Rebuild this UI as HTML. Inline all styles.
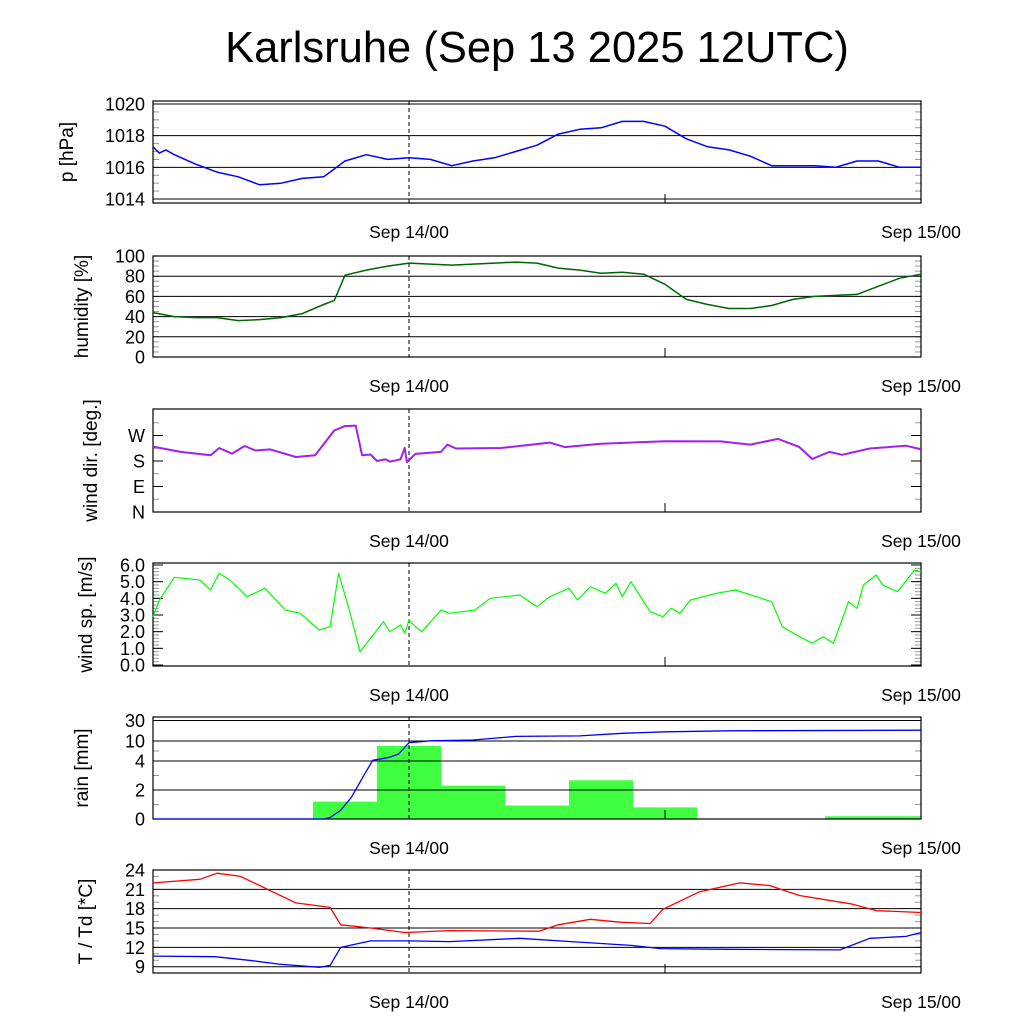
<!DOCTYPE html>
<html><head><meta charset="utf-8"><style>
body{margin:0;background:#fff}
svg{display:block;font-family:"Liberation Sans",sans-serif}
</style></head><body>
<svg id="c" width="1024" height="1024" viewBox="0 0 1024 1024">
<text x="537" y="62" font-size="43.5" text-anchor="middle">Karlsruhe (Sep 13 2025 12UTC)</text>
</svg>
<script>
// hours since Sep 13 12UTC
const pHours=[0,0.3,0.6,1,2,3,4,5,6,7,8,9,10,11,12,13,14,15,16,17,18,19,20,21,22,23,24,25,26,27,28,29,30,31,32,33,34,35,36];
const pVals=[1017.3,1016.9,1017.1,1016.8,1016.2,1015.7,1015.4,1014.9,1015.0,1015.3,1015.4,1016.4,1016.8,1016.5,1016.6,1016.5,1016.1,1016.4,1016.6,1017.0,1017.4,1018.1,1018.4,1018.5,1018.9,1018.9,1018.6,1017.8,1017.3,1017.1,1016.7,1016.1,1016.1,1016.1,1016.0,1016.4,1016.4,1016.0,1016.0];
const rhHours=[0,1,2,3,4,5,6,7,8,8.5,9,10,11,12,13,14,15,16,17,18,19,20,21,22,23,24,25,26,27,28,29,30,31,32,33,34,35,36];
const rhVals=[44,40,39,39,36,37,39,43,52,56,81,86,90,93,92,91,92,93,94,93,88,86,83,84,82,72,57,52,48,48,51,57,60,61,62,70,78,82];
const ddHours=[0,1.3,2.7,3.1,3.7,4.3,4.8,5.5,6.7,7.6,8.5,9,9.5,9.8,10.2,10.5,10.9,11.1,11.6,11.8,11.9,12.3,13.5,13.8,14.2,16.3,18.6,19.3,21,24,26.6,28,29.3,30.3,30.9,31.7,32.3,33.6,35.3,36];
const ddVals=[231,212,200,226,206,233,217,221,194,200,288,303,305,200,203,180,186,178,186,226,176,205,212,238,224,226,245,229,241,250,249,238,258,229,187,212,202,224,234,221];
const ffHours=[0,0.3,1,2.2,2.7,3.1,3.6,4.4,5.25,6.2,6.9,7.8,8.3,8.7,9.2,9.7,10.2,10.8,11.1,11.6,11.8,12,12.3,12.6,13.5,13.9,15.1,15.8,17.2,18,18.6,19.5,19.9,20.5,21.2,21.7,22,22.4,23.3,23.9,24.3,24.7,25.2,26.4,27.3,29,29.5,30.3,30.9,31.4,31.9,32.6,33,33.3,33.9,34.2,34.9,35.7,36];
const ffVals=[2.9,3.9,5.26,5.1,4.5,5.5,5.1,4.1,4.6,3.3,3.1,2.1,2.3,5.5,3.3,0.8,1.6,2.6,2.0,2.4,1.9,2.7,2.3,2.0,3.3,3.1,3.3,4.0,4.2,3.5,4.1,4.6,3.9,4.7,4.3,4.9,4.1,5.0,3.2,2.9,3.4,3.1,3.9,4.3,4.5,3.8,2.3,1.7,1.3,1.7,1.3,3.8,3.4,4.8,5.4,4.8,4.4,5.7,5.6];
const rainBarHours=[9,12,15,18,21,24,27,30,33,36];
const rainBarVals=[1.2,8.5,2.3,0.93,2.67,0.8,0,0,0.19,0.19];
const rainSumHours=[0,8,8.3,8.8,9.3,9.8,10.3,11,11.5,12,13,15,17,20,22,24,27,36];
const rainSumVals=[0,0,0.1,0.6,1.5,2.8,4.2,5.0,6.0,9.5,10.2,11,14.5,15,17.5,19,20,20.5];
const tHours=[0,2.2,3.0,4.1,5.25,6.7,8.3,8.8,10.2,11.8,13.9,18.1,19,20.5,21.9,23.3,23.9,25.6,27.5,28.9,30.3,32.7,33.9,36];
const tVals=[22.0,22.55,23.5,23.0,21.2,18.9,18.2,15.5,15.0,14.3,14.6,14.5,15.5,16.35,15.9,15.7,17.9,20.6,22.0,21.6,20.05,18.75,17.7,17.4];
const tdHours=[0,2.9,4.5,5.9,7.8,8.3,8.8,10.2,12,13.9,17.2,19.6,22.4,23.8,27,32.2,33.6,35.3,36];
const tdVals=[10.65,10.55,10.0,9.4,8.9,9.2,12.0,13.0,13.0,12.9,13.4,12.9,12.3,11.8,11.7,11.6,13.4,13.7,14.3];
const pTicks=[1014,1016,1018,1020];
const rhTicks=[0,20,40,60,80,100];
const ddTicks=[0,90,180,270];const ddLabels=['N','E','S','W'];
const ffTicks=[0,1,2,3,4,5,6];
const rainTicks=[0,2,4,10,30];
const tTicks=[9,12,15,18,21,24];
const xTickLabels=['Sep 14/00','Sep 15/00'];

const NS='http://www.w3.org/2000/svg';
const svg=document.getElementById('c');
const X0=153,X1=921,HMAX=36;
const xs=h=>X0+(X1-X0)*h/HMAX;
function el(tag,attrs,parent){const e=document.createElementNS(NS,tag);for(const k in attrs)e.setAttribute(k,attrs[k]);(parent||svg).appendChild(e);return e;}
function lin(v0,y0,v1,y1){return v=>y0+(v-v0)*(y1-y0)/(v1-v0);}
function pw(vs,ps){return v=>{for(let i=0;i<vs.length-1;i++){if(v<=vs[i+1]||i==vs.length-2){return ps[i]+(v-vs[i])*(ps[i+1]-ps[i])/(vs[i+1]-vs[i]);}}};}

function panel(name,top,bot,ys,ticks,labels,grid,minor,title,titleX){
  const g=el('g',{},svg);
  
  
  minor.forEach(v=>{const y=ys(v);
    el('line',{x1:X0,x2:X0+6,y1:y,y2:y,stroke:'#999','stroke-width':1},g);
    el('line',{x1:X1-6,x2:X1,y1:y,y2:y,stroke:'#999','stroke-width':1},g);});
  ticks.forEach((v,i)=>{const y=ys(v);
    if(grid) el('line',{x1:X0,x2:X1,y1:y,y2:y,stroke:'#000','stroke-width':1},g);
    else{el('line',{x1:X0,x2:X0+10,y1:y,y2:y,stroke:'#000'},g);el('line',{x1:X1-10,x2:X1,y1:y,y2:y,stroke:'#000'},g);}
    const t=el('text',{x:145,y:y+6.5,'font-size':18,'text-anchor':'end'},g);
    
    
    t.textContent=labels[i];});
  el('line',{x1:xs(24),x2:xs(24),y1:bot-9,y2:bot,stroke:'#000'},g);
  el('line',{x1:xs(12),x2:xs(12),y1:top,y2:bot,stroke:'#000','stroke-dasharray':'4,3'},g);
  el('rect',{x:X0,y:top,width:X1-X0,height:bot-top,fill:'none',stroke:'#000','stroke-width':1.2},g);
  const tt=el('text',{x:titleX,y:(top+bot)/2,'font-size':19,'text-anchor':'middle',transform:`rotate(-90 ${titleX} ${(top+bot)/2})`},g);
  
  
  tt.textContent=title;
  [[12,0],[36,1]].forEach(([h,i])=>{const t=el('text',{x:xs(h),y:bot+35,'font-size':17.5,'text-anchor':'middle'},g);
    
    
    t.textContent=xTickLabels[i];});
  return g;
}
function line(g,hs,vs,ys,color,name,w){
  const d=hs.map((h,i)=>(i?'L':'M')+xs(h).toFixed(1)+' '+ys(vs[i]).toFixed(1)).join(' ');
  const p=el('path',{d:d,fill:'none',stroke:color,'stroke-width':w||1.3,'stroke-linejoin':'round'},g);
  
  
}
function range(a,b,s){const r=[];for(let v=a;v<=b+1e-9;v+=s)r.push(+v.toFixed(3));return r;}

// pressure
let ys=lin(1014,199,1020,104);
let g=panel('pressure',101,203,ys,pTicks,pTicks.map(String),true,range(1014,1020,0.5),'p [hPa]',73);
line(g,pHours,pVals,ys,'#0000ff','pressure-line',1.5);
// humidity
ys=lin(0,357,100,256);
g=panel('humidity',256,357,ys,rhTicks,rhTicks.map(String),true,range(0,100,5),'humidity [%]',88);
line(g,rhHours,rhVals,ys,'#006400','humidity-line',1.5);
// wind dir
ys=lin(0,512,90,486.5);
g=panel('wind-direction',409,512,ys,ddTicks,ddLabels,false,range(45,315,90),'wind dir. [deg.]',97);
line(g,ddHours,ddVals,ys,'#a020f0','wind-direction-line',2);
// wind speed
ys=lin(0,665,6,565);
g=panel('wind-speed',563,666,ys,ffTicks,ffTicks.map(v=>v.toFixed(1)),false,range(0.2,5.8,0.2),'wind sp. [m/s]',92);
line(g,ffHours,ffVals,ys,'#00ff00','wind-speed-line',1.2);
// rain
ys=pw(rainTicks,[819,790,761,741,720.5]);
g=panel('rain',717,819,ys,rainTicks,rainTicks.map(String),true,[1,3,7],'rain [mm]',88);
rainBarHours.forEach((h,i)=>{if(rainBarVals[i]<=0)return;
  const x0=Math.max(X0,xs(h-1.5)),x1=Math.min(X1,xs(h+1.5));const y=ys(rainBarVals[i]);
  const r=el('rect',{x:x0,y:y,width:x1-x0,height:819-y,fill:'#40ff40'},g);
  
  
  g.insertBefore(r,g.firstChild);});
line(g,rainSumHours,rainSumVals,ys,'#0000ff','rain-cumulative-line',1.3);
// temperature
ys=lin(9,966.7,24,870);
g=panel('temperature',870,973,ys,tTicks,tTicks.map(String),true,range(10,23,1),'T / Td [*C]',92);
line(g,tHours,tVals,ys,'#ff0000','temperature-line',1.3);
line(g,tdHours,tdVals,ys,'#0000ff','dewpoint-line',1.3);
</script>
</body></html>
